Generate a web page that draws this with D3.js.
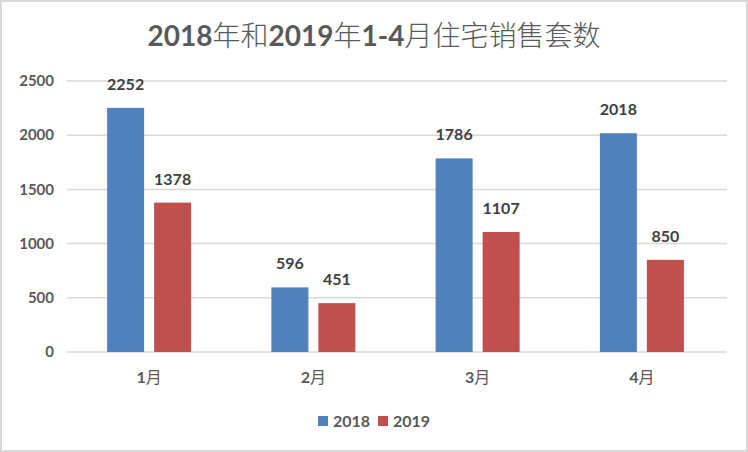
<!DOCTYPE html>
<html><head><meta charset="utf-8">
<script src="https://cdn.jsdelivr.net/npm/d3@7"></script>
<style>
body{margin:0;background:#fff;}
svg{display:block;}
</style></head>
<body>
<svg id="chart" width="748" height="452"></svg>
<script>
const categories = ["1月","2月","3月","4月"];
const seriesNames = ["2018","2019"];
const values2018 = [2252, 596, 1786, 2018];
const values2019 = [1378, 451, 1107, 850];
const yTicks = [0, 500, 1000, 1500, 2000, 2500];
const colors = ["#4f81bd", "#c0504d"];

const svg = d3.select("#chart");
const W = 748, H = 452;
const numFont = "Lato, 'Open Sans', sans-serif";
const cjkFont = "'Noto Sans CJK SC', sans-serif";

svg.append("rect").attr("x",1).attr("y",1).attr("width",W-2).attr("height",H-2)
  .attr("fill","#fff").attr("stroke","#d9d9d9").attr("stroke-width",2);

const m = {left:67, right:724, top:81, bottom:352};
const x = d3.scaleBand().domain(categories).range([m.left, m.right]);
const y = d3.scaleLinear().domain([0,2500]).range([m.bottom, m.top]);
const barW = 37, gap = 10;

// grid
svg.append("g").selectAll("line").data(yTicks).join("line")
  .attr("x1", m.left).attr("x2", 727)
  .attr("y1", d=>y(d)).attr("y2", d=>y(d))
  .attr("stroke","#d9d9d9").attr("stroke-width",1.5);

// y labels
svg.append("g").selectAll("text").data(yTicks).join("text")
  .attr("x", 54).attr("y", d=>y(d)).attr("dy","0.35em")
  .attr("text-anchor","end").attr("font-family",numFont).attr("font-weight","bold")
  .attr("font-size",15).attr("fill","#595959").text(d=>d);

// title
const title = svg.append("text").attr("x", W/2).attr("y", 46).attr("text-anchor","middle")
  .attr("fill","#595959").attr("font-size",28);
[["2018",true],["年和",false],["2019",true],["年",false],["1-4",true],["月住宅销售套数",false]].forEach(([t,b])=>{
  title.append("tspan").attr("font-family", b?numFont:cjkFont).attr("font-weight", b?"bold":"300").text(t);
});

const series = [values2018, values2019];
const offset = (x.bandwidth() - (2*barW+gap))/2;
series.forEach((vals, si) => {
  const g = svg.append("g");
  g.selectAll("rect").data(vals).join("rect")
    .attr("x", (d,i)=>x(categories[i]) + offset + si*(barW+gap))
    .attr("y", d=>y(d)).attr("width", barW).attr("height", d=>y(0)-y(d))
    .attr("fill", colors[si]);
  g.selectAll("text").data(vals).join("text")
    .attr("x", (d,i)=>x(categories[i]) + offset + si*(barW+gap) + barW/2)
    .attr("y", d=>y(d) - 18)
    .attr("text-anchor","middle").attr("font-family",numFont).attr("font-weight","bold")
    .attr("font-size",16).attr("fill","#404040").text(d=>d);
});

// x labels
const xl = svg.append("g").selectAll("text").data(categories).join("text")
  .attr("x", d=>x(d)+x.bandwidth()/2).attr("y", 383)
  .attr("text-anchor","middle").attr("font-size",16).attr("fill","#595959");
xl.append("tspan").attr("font-family",numFont).attr("font-weight","bold").text(d=>d.slice(0,-1));
xl.append("tspan").attr("font-family",cjkFont).text(d=>d.slice(-1));

// legend
const leg = svg.append("g");
const legX = [318, 378];
seriesNames.forEach((n,i)=>{
  leg.append("rect").attr("x",legX[i]).attr("y",416).attr("width",10).attr("height",10).attr("fill",colors[i]);
  leg.append("text").attr("x",legX[i]+15).attr("y",427).attr("font-family",numFont).attr("font-weight","bold")
    .attr("font-size",16).attr("fill","#595959").text(n);
});
</script>
</body></html>
